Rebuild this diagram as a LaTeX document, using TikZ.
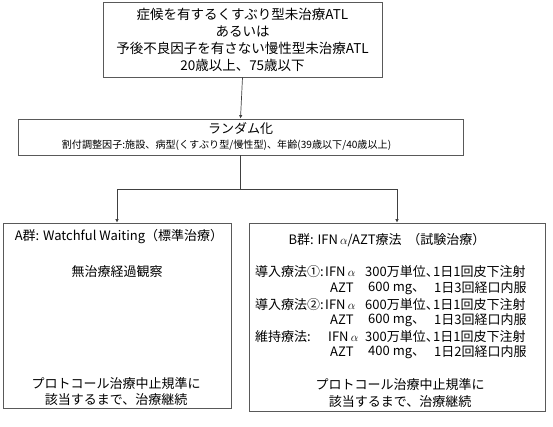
\documentclass[tikz,border=0pt]{standalone}
\usepackage{fontspec}
\setmainfont{Noto Sans CJK JP}
\usetikzlibrary{arrows.meta}
\begin{document}
\begin{tikzpicture}[x=1pt,y=-1pt,
  box/.style={draw=black!65,line width=0.8pt,rectangle,inner sep=0pt},
  conn/.style={draw=black!75,line width=0.7pt},
  arr/.style={conn,-{Latex[length=3.5pt,width=3.5pt]}},
  big/.style={font=\fontsize{13}{16.5}\selectfont,inner sep=0pt},
  small/.style={font=\fontsize{10.1}{13}\selectfont,inner sep=0pt}]
\useasboundingbox (0,0) rectangle (553,427);
% boxes
\node[box,minimum width=279pt,minimum height=75pt] (top) at (242.5,39.5) {};
\node[box,minimum width=445pt,minimum height=36pt] (rand) at (240.5,137) {};
\node[box,minimum width=228pt,minimum height=185pt] (A) at (117,315.5) {};
\node[box,minimum width=296pt,minimum height=188pt] (B) at (397,317) {};
% top text
\node[big,align=center,font=\fontsize{13.5}{17}\selectfont] (toptext) at (242.5,40)
  {症候を有するくすぶり型未治療ATL\\あるいは\\予後不良因子を有さない慢性型未治療ATL\\20歳以上、75歳以下};
% random text
\node[big] (randtitle) at (240.5,129) {ランダム化};
\node[small] (randsub) at (226.5,145) {割付調整因子:施設、病型(くすぶり型/慢性型)、年齢(39歳以下/40歳以上)};
% A text
\node[big] (Atitle) at (119,237) {A群: Watchful Waiting（標準治療）};
\node[big] (Abody) at (117,272) {無治療経過観察};
\node[big,align=center] (Abottom) at (116,391.5) {プロトコール治療中止規準に\\該当するまで、治療継続};
% B text
\node[big] (Btitle) at (387,240) {B群: IFN\,$\alpha$/AZT療法\ \ （試験治療）};
\node[big,anchor=west] (L1) at (255,272) {導入療法①:};
\node[big,anchor=west] (L3) at (255,305) {導入療法②:};
\node[big,anchor=west] (L5) at (255,337) {維持療法:};
\node[big,anchor=west] (D1) at (325,272) {IFN\,$\alpha$};
\node[big,anchor=west] (D2) at (330,288) {AZT};
\node[big,anchor=west] (D3) at (325,305) {IFN\,$\alpha$};
\node[big,anchor=west] (D4) at (330,320) {AZT};
\node[big,anchor=west] (D5) at (328,337) {IFN\,$\alpha$};
\node[big,anchor=west] (D6) at (330,352) {AZT};
\node[big,anchor=west] (E1) at (365,272) {300万単位、};
\node[big,anchor=west] (E2) at (368,288) {600 mg、};
\node[big,anchor=west] (E3) at (365,305) {600万単位、};
\node[big,anchor=west] (E4) at (368,320) {600 mg、};
\node[big,anchor=west] (E5) at (365,337) {300万単位、};
\node[big,anchor=west] (E6) at (368,352) {400 mg、};
\node[big,anchor=west] (F1) at (433,272) {1日1回皮下注射};
\node[big,anchor=west] (F2) at (434,288) {1日3回経口内服};
\node[big,anchor=west] (F3) at (433,305) {1日1回皮下注射};
\node[big,anchor=west] (F4) at (434,320) {1日3回経口内服};
\node[big,anchor=west] (F5) at (433,337) {1日1回皮下注射};
\node[big,anchor=west] (F6) at (434,352) {1日2回経口内服};
\node[big,align=center] (Bbottom) at (400,393) {プロトコール治療中止規準に\\該当するまで、治療継続};
% connectors
\coordinate (split) at (240.5,189);
\draw[arr] (top.south) -- (rand.north);
\draw[conn] (rand.south) -- (split);
\draw[arr] (split) -| (A.north);
\draw[arr] (split) -| (B.north);
\end{tikzpicture}
\end{document}
